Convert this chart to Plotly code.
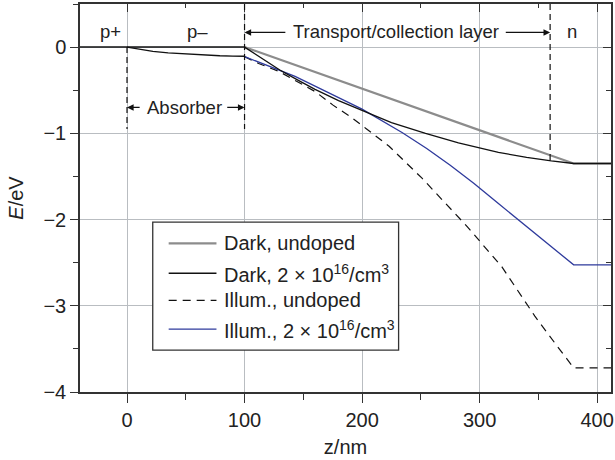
import plotly.graph_objects as go

# Band-edge energy profiles across the p+/p-/transport/n stack
z_left = [-40, 100]
e_left = [0, 0]

z_absorber = [0, 10, 22, 35, 50, 65, 79, 90, 100]
e_absorber_illum = [0, -0.025, -0.05, -0.067, -0.081, -0.092, -0.100, -0.104, -0.106]

z_dark_undoped = [100, 380, 412]
e_dark_undoped = [0, -1.35, -1.35]

z_dark_doped = [100, 115, 130, 145, 160, 180, 200, 225, 254, 282, 316, 340, 361, 380, 412]
e_dark_doped = [0, -0.135, -0.265, -0.38, -0.49, -0.62, -0.73, -0.875, -1.0, -1.11,
                -1.22, -1.28, -1.32, -1.35, -1.35]

z_illum_undoped = [100, 112, 129, 145, 160, 175, 190, 203, 223, 251, 282, 290, 319,
                   347, 365, 380, 412]
e_illum_undoped = [-0.11, -0.19, -0.28, -0.40, -0.515, -0.67, -0.805, -0.94, -1.15,
                   -1.52, -1.97, -2.09, -2.55, -3.12, -3.45, -3.72, -3.72]

z_illum_doped = [100, 120, 143, 170, 200, 234, 255, 275, 295, 316, 340, 360, 380, 412]
e_illum_doped = [-0.11, -0.215, -0.34, -0.52, -0.72, -0.99, -1.175, -1.37, -1.58,
                 -1.815, -2.08, -2.30, -2.525, -2.525]

# Region boundaries (nm)
boundaries = [0, 100, 360]

series_names = ["Dark, undoped",
                "Dark, 2 × 10<sup>16</sup>/cm<sup>3</sup>",
                "Illum., undoped",
                "Illum., 2 × 10<sup>16</sup>/cm<sup>3</sup>"]

FONT = "Liberation Sans, Arial, Helvetica, sans-serif"
GREY = "#8c8c8c"
BLACK = "#111111"
BLUE = "#2e3a9c"
DASH = "8px,6px"
AXIS = "#333333"
GRID = "#b9bdc1"

fig = go.Figure()

fig.add_trace(go.Scatter(x=z_dark_undoped, y=e_dark_undoped, mode="lines",
                         name=series_names[0], line=dict(color=GREY, width=2.2)))
fig.add_trace(go.Scatter(x=z_illum_undoped, y=e_illum_undoped, mode="lines",
                         name=series_names[2],
                         line=dict(color=BLACK, width=1.2, dash=DASH)))
fig.add_trace(go.Scatter(x=z_illum_doped, y=e_illum_doped, mode="lines",
                         name=series_names[3], line=dict(color=BLUE, width=1.3)))
fig.add_trace(go.Scatter(x=z_dark_doped, y=e_dark_doped, mode="lines",
                         name=series_names[1], line=dict(color=BLACK, width=1.3)))
fig.add_trace(go.Scatter(x=z_left, y=e_left, mode="lines", showlegend=False,
                         line=dict(color=BLACK, width=1.5)))
fig.add_trace(go.Scatter(x=z_absorber, y=e_absorber_illum, mode="lines",
                         showlegend=False, line=dict(color=BLACK, width=1.3)))
# carrier for the mirrored (inner-tick) top and right axes
fig.add_trace(go.Scatter(x=[None], y=[None], xaxis="x2", yaxis="y2",
                         showlegend=False, hoverinfo="skip"))

# Dashed region boundaries
bound_tops = [0, 0.5, 0.5]
bound_bottoms = [-0.95, -0.95, -1.35]
for xb, yt, yb in zip(boundaries, bound_tops, bound_bottoms):
    fig.add_shape(type="line", x0=xb, x1=xb, y0=yt, y1=yb, xref="x", yref="y",
                  line=dict(color=BLACK, width=1.2, dash="6px,4px"))

ann = []
label_font = dict(family=FONT, size=18.5, color="#222")
for txt, xl in [("p+", -14), ("p–", 60), ("n", 379)]:
    ann.append(dict(x=xl, y=0.18, xref="x", yref="y", text=txt, showarrow=False,
                    font=label_font, xanchor="center", yanchor="middle"))
ann.append(dict(x=229, y=0.18, xref="x", yref="y", text="Transport/collection layer",
                showarrow=False, font=label_font, xanchor="center", yanchor="middle"))
ann.append(dict(x=48.5, y=-0.7, xref="x", yref="y", text="Absorber",
                showarrow=False, font=label_font, xanchor="center", yanchor="middle"))


def arrow(x_head, x_tail, y):
    return dict(x=x_head, y=y, ax=x_tail, ay=y, xref="x", yref="y", axref="x",
                ayref="y", text="", showarrow=True, arrowhead=2, arrowsize=1.1,
                arrowwidth=1.2, arrowcolor=BLACK, standoff=0, startstandoff=0)


ann += [arrow(100, 136, 0.17), arrow(360, 321, 0.17),
        arrow(0, 12, -0.7), arrow(100, 84, -0.7)]

# Legend box drawn in plot-area (paper) coordinates
fig.add_shape(type="rect", xref="paper", yref="paper", x0=0.137, x1=0.600,
              y0=0.108, y1=0.438, line=dict(color=AXIS, width=1.3),
              fillcolor="white", layer="above")
leg_rows = [0.383, 0.306, 0.236, 0.162]
leg_styles = [dict(color=GREY, width=2.2), dict(color=BLACK, width=1.3),
              dict(color=BLACK, width=1.2, dash=DASH), dict(color=BLUE, width=1.3)]
for yr, st, nm in zip(leg_rows, leg_styles, series_names):
    fig.add_shape(type="line", xref="paper", yref="paper", x0=0.167, x1=0.257,
                  y0=yr, y1=yr, line=st, layer="above")
    ann.append(dict(x=0.268, y=yr, xref="paper", yref="paper", text=nm,
                    showarrow=False, xanchor="left", yanchor="middle",
                    font=dict(family=FONT, size=20, color="#222")))

tick_font = dict(family=FONT, size=20, color="#222")
fig.update_layout(
    width=615, height=460,
    margin=dict(l=80, r=2, t=4, b=68),
    paper_bgcolor="white", plot_bgcolor="white",
    showlegend=False,
    annotations=ann,
    xaxis=dict(range=[-40, 411.8], tick0=0, dtick=100, ticks="outside", ticklen=9,
               tickwidth=1.2, tickcolor=AXIS, showline=True, linecolor=AXIS,
               linewidth=1.5, mirror=True, showgrid=True, gridcolor=GRID,
               gridwidth=1.2, zeroline=False, tickfont=tick_font,
               minor=dict(dtick=50, tick0=0, ticks="outside", ticklen=6,
                          tickcolor=AXIS, tickwidth=1.2, showgrid=False),
               title=dict(text="z/nm", font=dict(family=FONT, size=20, color="#222"),
                          standoff=10)),
    yaxis=dict(range=[-4, 0.5], tick0=0, dtick=1, ticks="outside", ticklen=8,
               tickwidth=1.2, tickcolor=AXIS, showline=True, linecolor=AXIS,
               linewidth=1.5, mirror=True, showgrid=True, gridcolor=GRID,
               gridwidth=1.2, zeroline=False, tickfont=tick_font,
               minor=dict(dtick=0.5, tick0=0, ticks="outside", ticklen=5,
                          tickcolor=AXIS, tickwidth=1.2, showgrid=False),
               title=dict(text="<i>E</i>/eV",
                          font=dict(family=FONT, size=20, color="#222"),
                          standoff=14)),
    xaxis2=dict(overlaying="x", side="top", range=[-40, 411.8], tick0=0, dtick=100,
                ticks="inside", ticklen=8, tickwidth=1.2, tickcolor=AXIS,
                showticklabels=False, showgrid=False, zeroline=False, showline=False,
                minor=dict(dtick=50, tick0=0, ticks="inside", ticklen=4,
                           tickcolor=AXIS, tickwidth=1.2, showgrid=False)),
    yaxis2=dict(overlaying="y", side="right", range=[-4, 0.5], tick0=0, dtick=1,
                ticks="inside", ticklen=8, tickwidth=1.2, tickcolor=AXIS,
                showticklabels=False, showgrid=False, zeroline=False, showline=False,
                minor=dict(dtick=0.5, tick0=0, ticks="inside", ticklen=5,
                           tickcolor=AXIS, tickwidth=1.2, showgrid=False)),
)

fig.write_html("out.html")
